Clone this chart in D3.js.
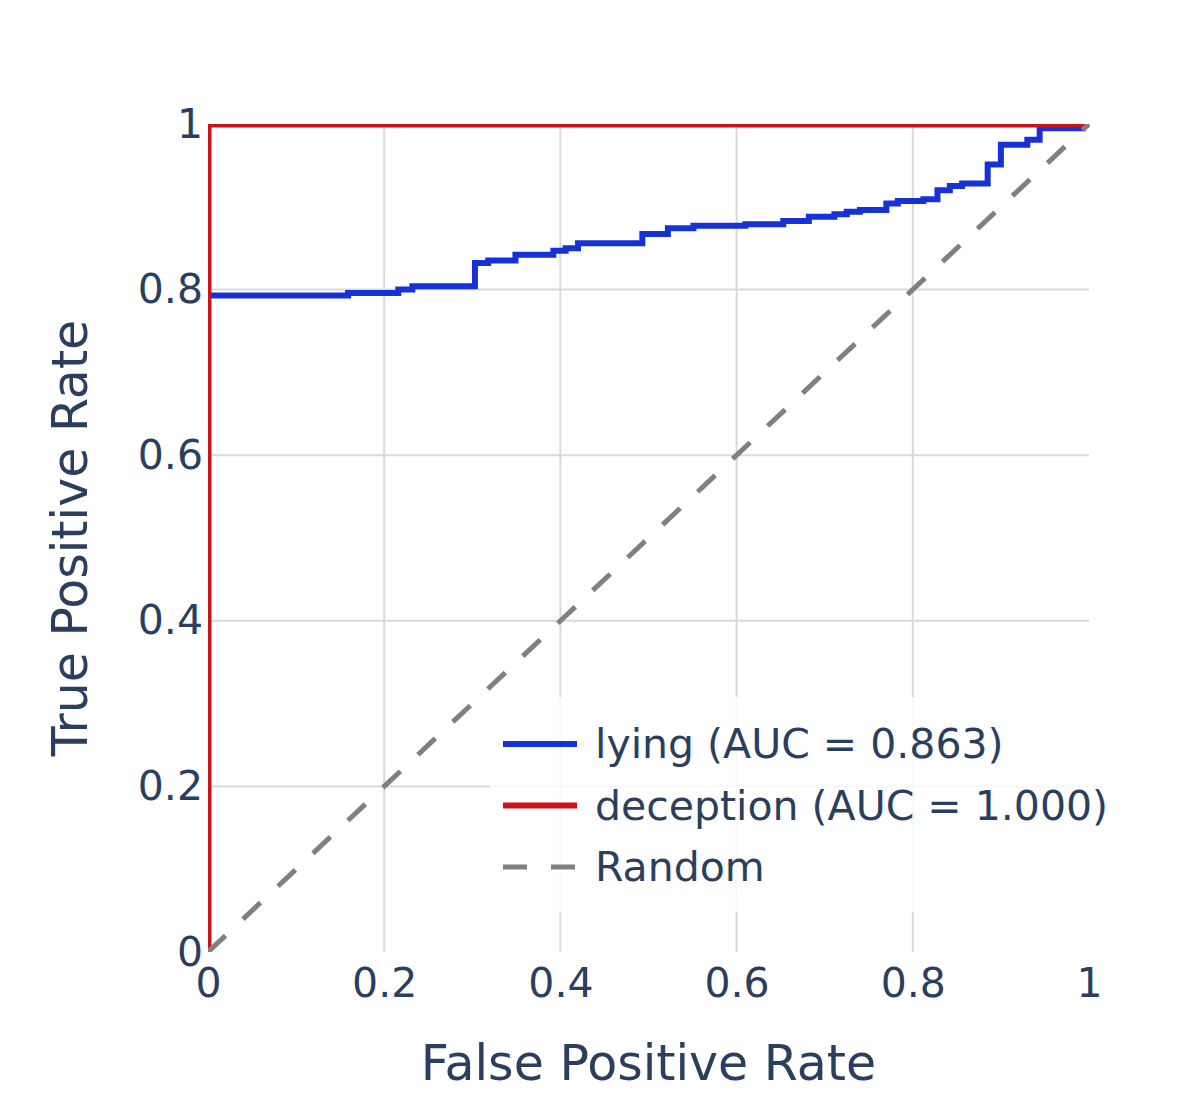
<!DOCTYPE html>
<html>
<head>
<meta charset="utf-8">
<script src="https://cdn.jsdelivr.net/npm/d3@7"></script>
<style>
  body { margin: 0; background: #fff; }
  text { font-family: "DejaVu Sans", Verdana, sans-serif; fill: #2a3f5f; }
</style>
</head>
<body>
<div id="chart"></div>
<script>
// ROC corner points
var lyingFpr = [0, 0, 0.159, 0.159, 0.216, 0.216, 0.232, 0.232, 0.303, 0.303, 0.318, 0.318,
  0.349, 0.349, 0.392, 0.392, 0.406, 0.406, 0.420, 0.420, 0.493, 0.493, 0.522, 0.522,
  0.551, 0.551, 0.610, 0.610, 0.653, 0.653, 0.682, 0.682, 0.711, 0.711, 0.725, 0.725,
  0.740, 0.740, 0.770, 0.770, 0.783, 0.783, 0.812, 0.812, 0.828, 0.828, 0.842, 0.842,
  0.856, 0.856, 0.885, 0.885, 0.900, 0.900, 0.930, 0.930, 0.944, 0.944, 0.993, 0.993, 1];
var lyingTpr = [0, 0.793, 0.793, 0.796, 0.796, 0.800, 0.800, 0.804, 0.804, 0.832, 0.832, 0.835,
  0.835, 0.842, 0.842, 0.847, 0.847, 0.850, 0.850, 0.856, 0.856, 0.867, 0.867, 0.874,
  0.874, 0.877, 0.877, 0.879, 0.879, 0.883, 0.883, 0.888, 0.888, 0.891, 0.891, 0.894,
  0.894, 0.896, 0.896, 0.904, 0.904, 0.907, 0.907, 0.909, 0.909, 0.920, 0.920, 0.925,
  0.925, 0.928, 0.928, 0.951, 0.951, 0.975, 0.975, 0.981, 0.981, 0.995, 0.995, 1, 1];

var deceptionFpr = [0, 0, 1];
var deceptionTpr = [0, 1, 1];

var randomFpr = [0, 1];
var randomTpr = [0, 1];

var tickValues = [0, 0.2, 0.4, 0.6, 0.8, 1];
var tickLabels = ["0", "0.2", "0.4", "0.6", "0.8", "1"];

var legendNames = ["lying (AUC = 0.863)", "deception (AUC = 1.000)", "Random"];

var svgWidth = 1196;
var svgHeight = 1093;

var margin = { top: 124, bottom: 141, right: 107, left: 208 };

var width = svgWidth - margin.left - margin.right;
var height = svgHeight - margin.top - margin.bottom;

var svg = d3.select("#chart")
  .append("svg")
  .attr("width", svgWidth)
  .attr("height", svgHeight);

// traces are clipped to the plot area
svg.append("defs").append("clipPath")
  .attr("id", "plotClip")
  .append("rect")
  .attr("x", 0).attr("y", 0)
  .attr("width", width + 1).attr("height", height);

var chartGroup = svg.append("g")
  .attr("transform", `translate(${margin.left}, ${margin.top})`);

var xScale = d3.scaleLinear().domain([0, 1]).range([0, width]);
var yScale = d3.scaleLinear().domain([0, 1]).range([height, 0]);

// grid
var inner = tickValues.slice(1, -1);
chartGroup.selectAll(".vgrid")
  .data(inner)
  .enter()
  .append("line")
  .attr("x1", d => xScale(d)).attr("x2", d => xScale(d))
  .attr("y1", 0).attr("y2", height)
  .attr("stroke", "#d9d9d9")
  .attr("stroke-width", 2);

chartGroup.selectAll(".hgrid")
  .data(inner)
  .enter()
  .append("line")
  .attr("x1", 0).attr("x2", width)
  .attr("y1", d => yScale(d)).attr("y2", d => yScale(d))
  .attr("stroke", "#d9d9d9")
  .attr("stroke-width", 2);

// axes (labels only)
var xAxis = d3.axisBottom(xScale)
  .tickValues(tickValues)
  .tickFormat((d, i) => tickLabels[i])
  .tickSize(0)
  .tickPadding(16);

var yAxis = d3.axisLeft(yScale)
  .tickValues(tickValues)
  .tickFormat((d, i) => tickLabels[i])
  .tickSize(0)
  .tickPadding(5);

var xg = chartGroup.append("g")
  .attr("transform", `translate(0, ${height})`)
  .call(xAxis);
var yg = chartGroup.append("g").call(yAxis);

[xg, yg].forEach(function(g) {
  g.select(".domain").remove();
  g.selectAll("text")
    .attr("fill", "#2a3f5f")
    .style("font-size", "41px")
    .style("font-family", "'DejaVu Sans', Verdana, sans-serif");
});

// lines
function toPoints(xs, ys) {
  return xs.map((x, i) => [x, ys[i]]);
}

var line = d3.line()
  .x(d => xScale(d[0]))
  .y(d => yScale(d[1]));

var traceGroup = chartGroup.append("g")
  .attr("clip-path", "url(#plotClip)");

traceGroup.append("path")
  .datum(toPoints(lyingFpr, lyingTpr))
  .attr("d", line)
  .attr("fill", "none")
  .attr("stroke", "#1632d6")
  .attr("stroke-width", 6);

traceGroup.append("path")
  .datum(toPoints(deceptionFpr, deceptionTpr))
  .attr("d", line)
  .attr("fill", "none")
  .attr("stroke", "#c8141a")
  .attr("stroke-width", 7);

traceGroup.append("path")
  .datum(toPoints(randomFpr, randomTpr))
  .attr("d", line)
  .attr("fill", "none")
  .attr("stroke", "#808080")
  .attr("stroke-width", 5)
  .attr("stroke-dasharray", "24,24");

// axis titles
svg.append("text")
  .attr("x", margin.left + width / 2)
  .attr("y", 1080)
  .attr("text-anchor", "middle")
  .style("font-size", "49px")
  .text("False Positive Rate");

svg.append("text")
  .attr("transform", `translate(87, ${margin.top + height / 2}) rotate(-90)`)
  .attr("text-anchor", "middle")
  .style("font-size", "49px")
  .text("True Positive Rate");

// legend
var legendGroup = svg.append("g");

legendGroup.append("rect")
  .attr("x", 490).attr("y", 697)
  .attr("width", 630).attr("height", 215)
  .attr("fill", "rgba(255,255,255,0.8)");

var legendStyles = [
  { color: "#1632d6", width: 6, dash: null },
  { color: "#c8141a", width: 6, dash: null },
  { color: "#808080", width: 5, dash: "24,24" }
];

legendNames.forEach(function(name, i) {
  var cy = 744 + i * 61.5;
  legendGroup.append("line")
    .attr("x1", 503).attr("x2", 577)
    .attr("y1", cy).attr("y2", cy)
    .attr("stroke", legendStyles[i].color)
    .attr("stroke-width", legendStyles[i].width)
    .attr("stroke-dasharray", legendStyles[i].dash);
  legendGroup.append("text")
    .attr("x", 595)
    .attr("y", cy + 14)
    .style("font-size", "41px")
    .text(name);
});
</script>
</body>
</html>
